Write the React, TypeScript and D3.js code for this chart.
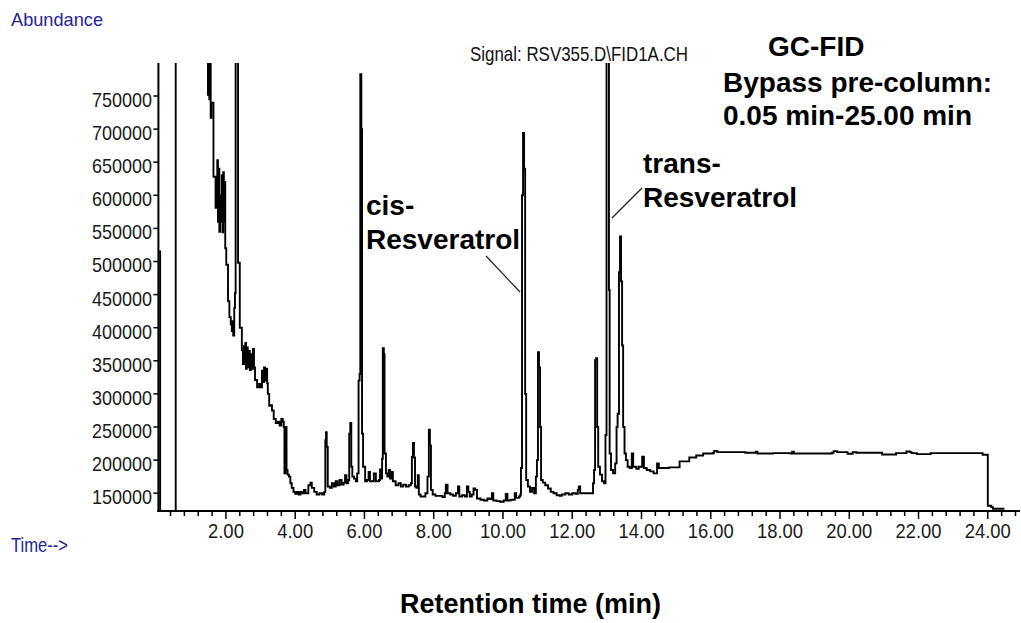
import React from "react";
import * as d3 from "d3";

// Retention time (min) of each sampled point of the FID trace
const retentionTime: number[] = [
  0.05, 0.09, 0.1, 0.53, 0.55,
  1.46, 1.48, 1.5, 1.52, 1.54, 1.56, 1.58, 1.62, 1.64, 1.68, 1.7,
  1.73, 1.75, 1.77, 1.79, 1.81, 1.83, 1.86, 1.88, 1.9,
  1.92, 1.94, 1.96, 1.98, 2.01, 2.04, 2.06, 2.1, 2.14, 2.17, 2.19, 2.21, 2.24, 2.26, 2.28, 2.33, 2.35, 2.38, 2.4, 2.44, 2.46, 2.49,
  2.52, 2.54, 2.56, 2.58, 2.6, 2.63, 2.66, 2.69, 2.72, 2.75, 2.78, 2.81, 2.84,
  2.9, 2.96, 3.0, 3.04, 3.07, 3.1, 3.13, 3.16, 3.19, 3.21, 3.25, 3.3, 3.33, 3.38, 3.44, 3.5, 3.55, 3.6, 3.64, 3.67, 3.69, 3.72, 3.75, 3.78, 3.82, 3.86, 3.9, 3.95,
  4.0, 4.05, 4.1, 4.15, 4.2, 4.25, 4.3, 4.38, 4.44, 4.48, 4.55, 4.62, 4.7, 4.78, 4.84, 4.87, 4.89, 4.91, 4.94,
  5.0, 5.06, 5.12, 5.17, 5.22, 5.28, 5.34, 5.4, 5.44, 5.48, 5.53, 5.56, 5.59, 5.62, 5.65, 5.7, 5.75, 5.79, 5.83, 5.86, 5.88, 5.91, 5.93, 5.96,
  6.02, 6.07, 6.12, 6.16, 6.22, 6.27, 6.33, 6.42, 6.45, 6.48, 6.51, 6.53, 6.56, 6.58, 6.62, 6.66, 6.7, 6.74, 6.78, 6.82, 6.9, 6.98,
  7.05, 7.12, 7.2, 7.28, 7.34, 7.37, 7.4, 7.43, 7.46, 7.5, 7.54, 7.57, 7.62, 7.7, 7.76, 7.82, 7.86, 7.89, 7.92, 7.97,
  8.05, 8.15, 8.25, 8.32, 8.35, 8.4, 8.48, 8.56, 8.64, 8.7, 8.74, 8.82, 8.9, 8.96,
  9.0, 9.04, 9.1, 9.15, 9.2, 9.25, 9.35, 9.45, 9.55, 9.62, 9.68, 9.72, 9.82, 9.92,
  10.02, 10.08, 10.13, 10.22, 10.3, 10.34, 10.38, 10.46, 10.5, 10.52, 10.55, 10.58, 10.61, 10.64, 10.67, 10.72, 10.78, 10.84, 10.9, 10.95, 10.98,
  11.01, 11.04, 11.07, 11.1, 11.15, 11.22, 11.3, 11.38, 11.46, 11.55, 11.64, 11.7, 11.8, 11.9,
  12.0, 12.1, 12.16, 12.19, 12.23, 12.35, 12.48, 12.58, 12.6, 12.63, 12.66, 12.69, 12.72, 12.75, 12.8, 12.86, 12.92, 12.96, 12.99, 13.04, 13.06, 13.08,
  13.12, 13.18, 13.24, 13.28, 13.31, 13.35, 13.38, 13.41, 13.44, 13.47, 13.51, 13.55, 13.6, 13.66, 13.72, 13.76, 13.85, 13.92,
  14.02, 14.07, 14.15, 14.25, 14.35, 14.45, 14.5, 14.8, 15.05, 15.1, 15.34, 15.38, 15.54, 15.58, 15.74, 15.78, 16.06, 16.1, 16.18, 16.2, 16.75,
  17.0, 17.3, 17.35, 17.8, 18.3, 18.35, 18.4, 19.1, 19.5, 19.55, 19.65, 19.9, 19.95, 20.05, 20.1, 20.2, 20.9, 20.95, 21.3, 21.35, 21.6, 21.65, 21.75, 21.8, 21.95, 22.3, 22.35, 23.8, 23.85, 23.96, 24.0, 24.1, 24.15, 24.48,
];

// Detector response at each retention time
const abundance: number[] = [
  515000, 515000, 100000, 100000, 900000,
  900000, 752000, 830000, 745000, 810000, 717000, 740000, 740000, 628000, 628000, 581000,
  610000, 653000, 560000, 640000, 545000, 600000, 560000, 630000, 544000,
  635000, 560000, 620000, 520000, 495000, 495000, 440000, 416000, 405000, 395000, 410000, 388000, 430000, 452000, 900000, 900000, 498000, 498000, 400000, 400000, 366000, 345000,
  372000, 345000, 377000, 338000, 370000, 340000, 365000, 336000, 360000, 338000, 368000, 340000, 321000,
  310000, 315000, 310000, 335000, 318000, 340000, 320000, 338000, 316000, 300000, 282000, 283000, 275000, 262000, 256000, 258000, 252000, 262000, 258000, 250000, 180000, 250000, 185000, 178000, 175000, 165000, 158000, 152000,
  149000, 152000, 148000, 152000, 150000, 155000, 150000, 162000, 166000, 158000, 152000, 148000, 150000, 148000, 152000, 230000, 242000, 220000, 160000,
  158000, 165000, 160000, 168000, 162000, 170000, 163000, 166000, 177000, 165000, 170000, 240000, 256000, 190000, 175000, 172000, 168000, 180000, 320000, 330000, 783000, 700000, 240000, 190000,
  168000, 170000, 182000, 168000, 168000, 180000, 168000, 170000, 186000, 172000, 202000, 369000, 360000, 210000, 180000, 175000, 185000, 172000, 182000, 168000, 162000, 165000,
  160000, 163000, 160000, 162000, 165000, 205000, 226000, 204000, 160000, 158000, 177000, 148000, 145000, 145000, 150000, 175000, 246000, 222000, 155000, 148000,
  146000, 146000, 144000, 150000, 163000, 150000, 148000, 146000, 150000, 160000, 145000, 147000, 145000, 160000,
  152000, 145000, 148000, 157000, 155000, 142000, 140000, 139000, 142000, 141000, 150000, 139000, 138000, 137000,
  139000, 149000, 139000, 140000, 140000, 150000, 143000, 145000, 148000, 188000, 600000, 694000, 640000, 300000, 170000, 160000, 152000, 158000, 150000, 175000, 200000,
  363000, 340000, 250000, 170000, 166000, 162000, 157000, 152000, 150000, 147000, 146000, 148000, 150000, 148000,
  150000, 149000, 155000, 160000, 150000, 150000, 150000, 150000, 165000, 185000, 351000, 354000, 250000, 190000, 178000, 168000, 165000, 238000, 900000, 900000, 457000, 210000,
  185000, 180000, 195000, 250000, 270000, 484000, 538000, 470000, 373000, 250000, 210000, 200000, 190000, 188000, 210000, 190000, 187000, 190000,
  205000, 188000, 185000, 183000, 180000, 195000, 188000, 189000, 189000, 198000, 198000, 204000, 204000, 207000, 207000, 210000, 211000, 214000, 213000, 212000, 212000,
  211000, 212500, 210000, 210500, 210000, 212500, 210000, 210000, 211000, 213500, 212000, 212000, 209500, 209500, 212000, 211000, 211000, 208500, 208500, 210500, 210500, 213000, 212000, 210500, 209000, 209000, 210500, 210500, 208000, 208000, 131000, 129000, 126500, 126500,
];

const yTickValues: number[] = [150000, 200000, 250000, 300000, 350000, 400000, 450000, 500000, 550000, 600000, 650000, 700000, 750000];
const xTickValues: number[] = [2, 4, 6, 8, 10, 12, 14, 16, 18, 20, 22, 24];
const xTickLabels: string[] = xTickValues.map((v) => v.toFixed(2));

const W = 1021;
const H = 623;
const plotLeft = 158.4;
const plotRight = 1020;
const plotTop = 63;
const plotBottom = 511;

const AXIS_FONT = "'Liberation Sans', Arial, sans-serif";
const NAVY = "#24249a";

export default function App() {
  const x = d3.scaleLinear().domain([0.05, 24.93]).range([plotLeft, plotRight]);
  const y = d3.scaleLinear().domain([123100, 799850]).range([plotBottom, plotTop]);

  const trace = d3
    .line<number>()
    .x((_, i) => x(retentionTime[i]))
    .y((d) => y(d))
    .curve(d3.curveStepAfter)(abundance) ?? "";

  // minor ticks every 0.4 min, long ticks at the labelled 2-min marks
  const minorTicks = d3.range(1, 63).map((i) => ({ t: i * 0.4, major: i % 5 === 0 }));

  return (
    <svg
      width={W}
      height={H}
      style={{ position: "absolute", left: 0, top: 0, background: "#fff" }}
      xmlns="http://www.w3.org/2000/svg"
    >
      <defs>
        <clipPath id="plotClip">
          <rect x={plotLeft} y={plotTop} width={plotRight - plotLeft} height={plotBottom - plotTop} />
        </clipPath>
      </defs>
      <rect x={0} y={0} width={W} height={H} fill="#fff" />

      {/* corner captions */}
      <text x={11} y={26} fontFamily={AXIS_FONT} fontSize={19} fill={NAVY} textLength={92} lengthAdjust="spacingAndGlyphs">
        Abundance
      </text>
      <text x={11} y={552} fontFamily={AXIS_FONT} fontSize={20} fill={NAVY} textLength={57} lengthAdjust="spacingAndGlyphs">
        Time--&gt;
      </text>

      {/* trace */}
      <path d={trace} fill="none" stroke="#000" strokeWidth={1.9} clipPath="url(#plotClip)" strokeLinejoin="miter" />

      {/* y axis */}
      <line x1={plotLeft} y1={plotTop} x2={plotLeft} y2={plotBottom + 1} stroke="#000" strokeWidth={2} />
      {yTickValues.map((v) => (
        <g key={v}>
          <line x1={plotLeft - 5} x2={plotLeft} y1={y(v)} y2={y(v)} stroke="#000" strokeWidth={1.5} />
          <text
            x={152}
            y={y(v) + 11}
            textAnchor="end"
            fontFamily={AXIS_FONT}
            fontSize={21}
            fill="#1a1a1a"
            textLength={60}
            lengthAdjust="spacingAndGlyphs"
          >
            {String(v)}
          </text>
        </g>
      ))}

      {/* x axis */}
      <line x1={plotLeft - 1} y1={plotBottom} x2={plotRight} y2={plotBottom} stroke="#000" strokeWidth={2} />
      {minorTicks.map(({ t, major }) => (
        <line
          key={t.toFixed(1)}
          x1={x(t)}
          x2={x(t)}
          y1={plotBottom}
          y2={plotBottom + (major ? 8 : 5)}
          stroke="#000"
          strokeWidth={1.5}
        />
      ))}
      {xTickValues.map((v, i) => (
        <text
          key={v}
          x={x(v)}
          y={538}
          textAnchor="middle"
          fontFamily={AXIS_FONT}
          fontSize={21}
          fill="#1a1a1a"
          textLength={xTickLabels[i].length === 4 ? 36 : 46}
          lengthAdjust="spacingAndGlyphs"
        >
          {xTickLabels[i]}
        </text>
      ))}

      {/* run information */}
      <text x={470} y={61} fontFamily={AXIS_FONT} fontSize={21} fill="#111" textLength={218} lengthAdjust="spacingAndGlyphs">
        Signal: RSV355.D\FID1A.CH
      </text>
      <g fontFamily={AXIS_FONT} fontWeight="bold" fontSize={28} fill="#000">
        <text x={768} y={56}>GC-FID</text>
        <text x={723} y={92}>Bypass pre-column:</text>
        <text x={723} y={125}>0.05 min-25.00 min</text>
      </g>

      {/* peak labels */}
      <g fontFamily={AXIS_FONT} fontWeight="bold" fontSize={28} fill="#000">
        <text x={366} y={215}>cis-</text>
        <text x={366} y={249}>Resveratrol</text>
        <text x={643} y={173}>trans-</text>
        <text x={643} y={207}>Resveratrol</text>
      </g>
      <line x1={486} y1={256} x2={520} y2={292} stroke="#222" strokeWidth={1.2} />
      <line x1={642} y1={188} x2={612} y2={218} stroke="#222" strokeWidth={1.2} />

      {/* axis title */}
      <text x={400} y={613} fontFamily={AXIS_FONT} fontWeight="bold" fontSize={27} fill="#000">
        Retention time (min)
      </text>
    </svg>
  );
}
